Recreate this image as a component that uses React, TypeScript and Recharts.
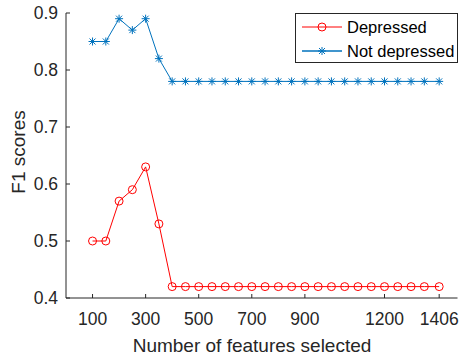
import { LineChart, Line, XAxis, YAxis, Legend } from "recharts";

// number of selected features (x) and F1 per class
const featureCounts = [
  100, 150, 200, 250, 300, 350, 400, 450, 500, 550, 600, 650, 700, 750, 800,
  850, 900, 950, 1000, 1050, 1100, 1150, 1200, 1250, 1300, 1350, 1406,
];
const depressedF1 = [
  0.5, 0.5, 0.57, 0.59, 0.63, 0.53, 0.42, 0.42, 0.42, 0.42, 0.42, 0.42, 0.42,
  0.42, 0.42, 0.42, 0.42, 0.42, 0.42, 0.42, 0.42, 0.42, 0.42, 0.42, 0.42, 0.42,
  0.42,
];
const notDepressedF1 = [
  0.85, 0.85, 0.89, 0.87, 0.89, 0.82, 0.78, 0.78, 0.78, 0.78, 0.78, 0.78, 0.78,
  0.78, 0.78, 0.78, 0.78, 0.78, 0.78, 0.78, 0.78, 0.78, 0.78, 0.78, 0.78, 0.78,
  0.78,
];
const xTicks = [100, 300, 500, 700, 900, 1200, 1406];
const yTicks = [0.4, 0.5, 0.6, 0.7, 0.8, 0.9];
const seriesNames = ["Depressed", "Not depressed"];

const data = featureCounts.map((n, i) => ({
  n,
  depressed: depressedF1[i],
  notDepressed: notDepressedF1[i],
}));

const AXIS = "#262626";
const RED = "#FF0000";
const BLUE = "#0072BD";
const FONT = "'Liberation Sans', Arial, Helvetica, sans-serif";
const TICK = 4;

function Circle({ cx, cy }: any) {
  if (cx == null || cy == null) return null;
  return <circle cx={cx} cy={cy} r={4} fill="none" stroke={RED} strokeWidth={1} />;
}

function Asterisk({ cx, cy }: any) {
  if (cx == null || cy == null) return null;
  return (
    <g stroke={BLUE} strokeWidth={1}>
      <line x1={cx - 4} y1={cy} x2={cx + 4} y2={cy} />
      <line x1={cx} y1={cy - 4} x2={cx} y2={cy + 4} />
      <line x1={cx - 3} y1={cy - 3} x2={cx + 3} y2={cy + 3} />
      <line x1={cx - 3} y1={cy + 3} x2={cx + 3} y2={cy - 3} />
    </g>
  );
}

function BottomTick({ x, y, payload }: any) {
  return (
    <g>
      <line x1={x} y1={y} x2={x} y2={y - TICK} stroke={AXIS} />
      <text x={x} y={y + 27} textAnchor="middle" fill={AXIS} fontSize={17.5} fontFamily={FONT}>
        {payload.value}
      </text>
    </g>
  );
}

function TopTick({ x, y }: any) {
  return <line x1={x} y1={y} x2={x} y2={y + TICK} stroke={AXIS} />;
}

function LeftTick({ x, y, payload }: any) {
  return (
    <g>
      <line x1={x} y1={y} x2={x + TICK} y2={y} stroke={AXIS} />
      <text x={x - 8} y={y + 6} textAnchor="end" fill={AXIS} fontSize={17.5} fontFamily={FONT}>
        {payload.value.toFixed(1)}
      </text>
    </g>
  );
}

function RightTick({ x, y }: any) {
  return <line x1={x} y1={y} x2={x - TICK} y2={y} stroke={AXIS} />;
}

function XTitle() {
  return (
    <text x={252} y={351.5} textAnchor="middle" fill={AXIS} fontSize={19} fontFamily={FONT}>
      Number of features selected
    </text>
  );
}

function YTitle() {
  return (
    <text
      x={25}
      y={152}
      transform="rotate(-90 25 152)"
      textAnchor="middle"
      fill={AXIS}
      fontSize={19}
      fontFamily={FONT}
    >
      F1 scores
    </text>
  );
}

function LegendBox() {
  return (
    <svg width={163} height={50} style={{ display: "block" }}>
      <rect x={0.5} y={0.5} width={162} height={49} fill="#fff" stroke={AXIS} />
      <line x1={7} y1={14} x2={47} y2={14} stroke={RED} />
      <Circle cx={27} cy={14} />
      <text x={52} y={20} fill="#000" fontSize={16.5} fontFamily={FONT}>
        {seriesNames[0]}
      </text>
      <line x1={7} y1={38} x2={47} y2={38} stroke={BLUE} strokeWidth={1.5} />
      <Asterisk cx={27} cy={38} />
      <text x={52} y={44} fill="#000" fontSize={16.5} fontFamily={FONT}>
        {seriesNames[1]}
      </text>
    </svg>
  );
}

export default function App() {
  return (
    <div style={{ position: "absolute", left: 0, top: 0, background: "#fff" }}>
      <LineChart
        width={459}
        height={358}
        data={data}
        margin={{ top: 13, right: 1.5, left: 0, bottom: 0 }}
      >
        <XAxis
          dataKey="n"
          type="number"
          domain={[0, 1475]}
          ticks={xTicks}
          height={60}
          tickSize={0}
          tickMargin={0}
          axisLine={{ stroke: AXIS }}
          tickLine={false}
          tick={<BottomTick />}
          label={<XTitle />}
          interval={0}
        />
        <XAxis
          xAxisId="top"
          orientation="top"
          dataKey="n"
          type="number"
          domain={[0, 1475]}
          ticks={xTicks}
          height={0}
          tickSize={0}
          tickMargin={0}
          axisLine={{ stroke: AXIS }}
          tickLine={false}
          tick={<TopTick />}
          interval={0}
        />
        <YAxis
          type="number"
          domain={[0.4, 0.9]}
          ticks={yTicks}
          width={66}
          tickSize={0}
          tickMargin={0}
          axisLine={{ stroke: AXIS }}
          tickLine={false}
          tick={<LeftTick />}
          label={<YTitle />}
          interval={0}
        />
        <YAxis
          yAxisId="right"
          orientation="right"
          type="number"
          domain={[0.4, 0.9]}
          ticks={yTicks}
          width={0}
          tickSize={0}
          tickMargin={0}
          axisLine={{ stroke: AXIS }}
          tickLine={false}
          tick={<RightTick />}
          interval={0}
        />
        <Legend
          content={<LegendBox />}
          layout="horizontal"
          verticalAlign="middle"
          align="center"
          wrapperStyle={{ left: 294.5, top: 13, width: 163, height: 50 }}
        />
        <Line
          dataKey="depressed"
          name={seriesNames[0]}
          stroke={RED}
          strokeWidth={1}
          dot={(p: any) => <Circle key={`dep-${p.index}`} cx={p.cx} cy={p.cy} />}
          activeDot={false}
          isAnimationActive={false}
        />
        <Line
          dataKey="notDepressed"
          name={seriesNames[1]}
          stroke={BLUE}
          strokeWidth={1}
          dot={(p: any) => <Asterisk key={`nd-${p.index}`} cx={p.cx} cy={p.cy} />}
          activeDot={false}
          isAnimationActive={false}
        />
      </LineChart>
    </div>
  );
}
